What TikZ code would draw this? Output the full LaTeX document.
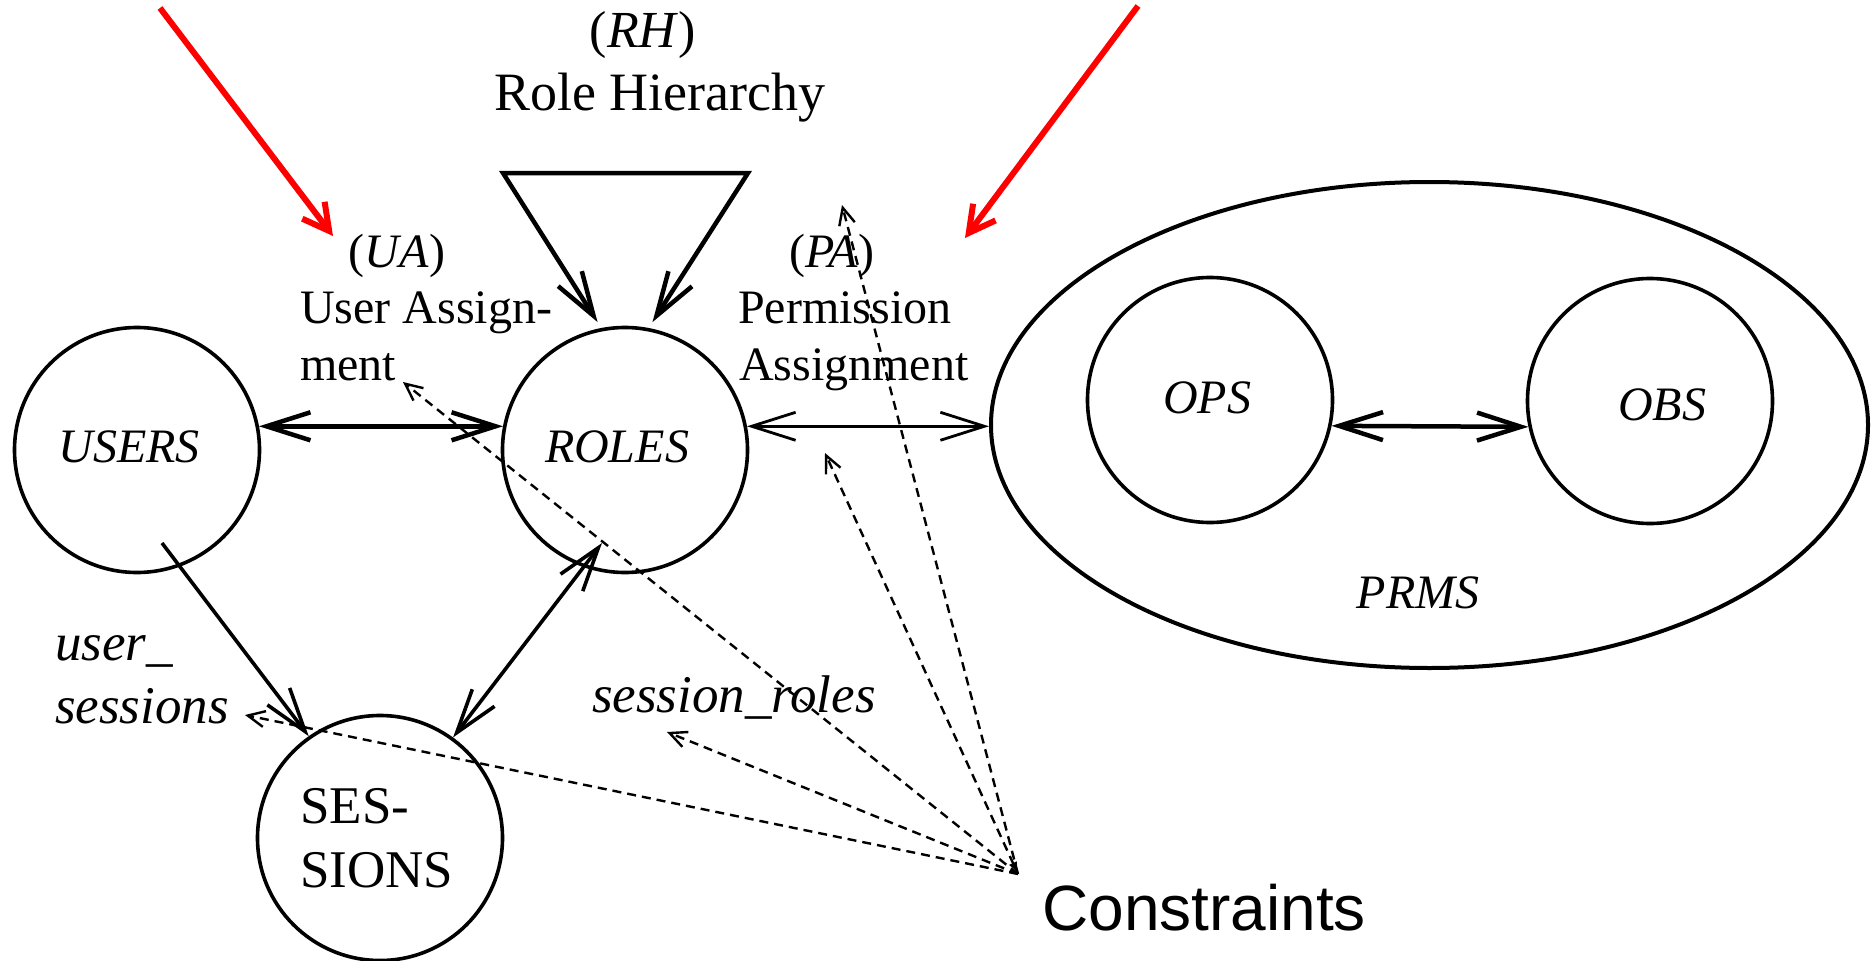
\documentclass[tikz,border=0pt]{standalone}
\usepackage{fontspec}
\setmainfont{Liberation Serif}
\newfontfamily\constrfont{Liberation Sans}
\usetikzlibrary{arrows.meta,shapes.geometric}
\begin{document}
\begin{tikzpicture}[x=1pt,y=-1pt,
  ring/.style={circle,draw,line width=3.6pt,minimum size=245pt,inner sep=0pt},
  itl/.style={font=\fontsize{48}{56}\selectfont\itshape,inner sep=0pt,anchor=base},
  rml/.style={font=\fontsize{48}{56}\selectfont,inner sep=0pt,anchor=base west},
  fnl/.style={font=\fontsize{53}{60}\selectfont\itshape,inner sep=0pt,anchor=base west},
  sesl/.style={font=\fontsize{53}{60}\selectfont,inner sep=0pt,anchor=base west},
  onehead/.style={-{Straight Barb[length=44pt,width=28pt]}},
  twohead/.style={{Straight Barb[length=44pt,width=28pt]}-{Straight Barb[length=44pt,width=28pt]}},
  dsh/.style={dash pattern=on 9pt off 6pt,line width=2.4pt,-{Straight Barb[length=17pt,width=16pt]}},
  redarrow/.style={red,line width=6pt,-{Straight Barb[length=26pt,width=28pt]}}
]
\useasboundingbox (0,0) rectangle (1872,961);

% main sets
\node[ring] (users) at (137,450) {};
\node[ring] (roles) at (625,450) {};
\node[ring] (sessions) at (380,838) {};
\node[ellipse,draw,line width=4pt,minimum width=877pt,minimum height=486pt,inner sep=0pt] (prms) at (1429.5,425) {};
\node[ring] (ops) at (1210,400) {};
\node[ring] (obs) at (1650,401) {};

% set names
\node[itl] (usersT) at (129,462) {USERS};
\node[itl] (rolesT) at (617,462) {ROLES};
\node[itl] (opsT) at (1207,413) {OPS};
\node[itl] (obsT) at (1662,420) {OBS};
\node[itl] (prmsT) at (1418,608) {PRMS};
\node[sesl] (ses1) at (300,823) {SES-};
\node[sesl] (ses2) at (300,887) {SIONS};

% relation labels
\node[font=\fontsize{52}{60}\selectfont,inner sep=0pt,anchor=base] (rh) at (643,47) {(\textit{RH})};
\node[font=\fontsize{54}{60}\selectfont,inner sep=0pt,anchor=base] (rhT) at (660,110) {Role Hierarchy};
\node[font=\fontsize{48}{56}\selectfont,inner sep=0pt,anchor=base] (ua) at (397,267) {(\textit{UA})};
\node[rml] (ua1) at (300,323) {User Assign-};
\node[rml] (ua2) at (300,380) {ment};
\node[font=\fontsize{48}{56}\selectfont,inner sep=0pt,anchor=base] (pa) at (832,267) {(\textit{PA})};
\node[rml] (pa1) at (738,323) {Permission};
\node[rml] (pa2) at (739,380) {Assignment};
\node[fnl] (us1) at (55,660) {user\_};
\node[fnl] (us2) at (55,723) {sessions};
\node[fnl] (sr) at (592,712) {session\_roles};
\node[font=\constrfont\fontsize{64}{70}\selectfont,inner sep=0pt,anchor=base west] (constr) at (1042,930) {Constraints};

% role hierarchy triangle
\coordinate (tl) at (503,173);
\coordinate (tr) at (748,173);
\draw[line width=4.5pt,twohead,shorten <=7pt,shorten >=7pt] (roles.101) -- (tl) -- (tr) -- (roles.79);

% assignments
\draw[line width=4.5pt,twohead] (users.11) -- (roles.169);
\draw[line width=2.8pt,twohead] (roles.11) -- (roles.11 -| prms.west);
\draw[line width=4.5pt,twohead] (ops.-12) -- (obs.192);
\draw[line width=3.6pt,onehead] ([shift={(25,93)}]users.center) -- (sessions.125.5);
\draw[line width=3.6pt,twohead] ([shift={(-23,93)}]roles.center) -- (sessions.54);

% constraints
\coordinate (C) at (1018,874);
\coordinate (d1) at (403,382);
\coordinate (d2) at (245,715);
\coordinate (d3) at (667,732);
\coordinate (d4) at (825,453);
\coordinate (d5) at (842,205);
\draw[dsh] (C) -- (d1);
\draw[dsh] (C) -- (d2);
\draw[dsh] (C) -- (d3);
\draw[dsh,{Latex[length=12pt,width=9pt]}-{Straight Barb[length=17pt,width=16pt]}] (C) -- (d4);
\draw[dsh] (C) -- (d5);

% red pointers
\coordinate (r1s) at (160,8);
\coordinate (r1e) at (333,236);
\coordinate (r2s) at (1138,6);
\coordinate (r2e) at (965,238);
\draw[redarrow] (r1s) -- (r1e);
\draw[redarrow] (r2s) -- (r2e);
\end{tikzpicture}
\end{document}
